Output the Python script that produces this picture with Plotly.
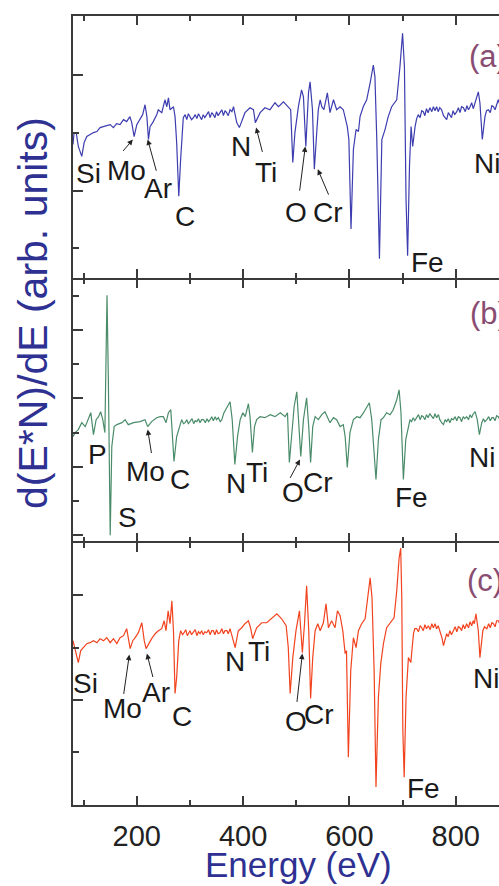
import plotly.graph_objects as go

# ---------------- data (energy in eV, signal in arb. units) ----------------
energy_a = [80, 82, 86, 90, 96.5, 101, 106, 112, 118.5, 125, 131, 137, 143.5, 150, 156, 162, 168.5, 175, 181, 187,
            190.5, 195, 200, 206, 211, 215.5, 219, 222, 225, 231, 237.5, 240.5, 247, 253, 256.5, 259.5, 262.5, 269,
            272, 275, 279, 282.5,
            287.5, 291, 294, 297, 300, 303, 306.5, 310, 313, 316, 319, 322, 325, 328, 331.5, 335, 338, 341, 344,
            347, 350, 353, 356.5, 360, 363, 366, 369, 372, 375.5, 379, 382,
            385, 388, 393, 397.5, 403.5, 413, 419.5, 423, 432, 441, 450.5, 460, 466.5, 476, 485, 489.5, 493.5,
            497.5, 504, 510, 513.5, 518, 523, 526, 530.5, 534, 538.5, 541.5, 545, 548, 552, 558.5, 563.5, 570, 576,
            582.5, 588.5, 596, 599, 603, 607.5, 612.5, 617, 620, 626, 632.5, 639, 645, 648, 651.5, 656.5, 661, 667,
            673, 679.5, 689, 695, 700, 703.5, 706.5, 709.5, 713, 716, 719,
            723.5, 726.5, 729.5, 733, 736, 739, 742, 745, 748, 751.5, 755, 758, 761, 764, 767, 770, 773.5, 777, 780,
            783, 786, 789, 792, 795, 798, 802, 805, 808, 811, 814.5, 818, 821, 824, 827, 830, 833, 836.5, 839,
            842.5, 845.5, 850,
            855, 858, 861.5, 865, 868, 871, 874, 877, 880, 883, 885]
signal_a = [-12, 0, 0, -14, -24, -10, -4, -2, 0, 1, 5, 6, 7, 8, 5, 9, 8, 13, 11, 16,
            10, -4, 8, 13, 18, 28, 16, -7, 6, 11, 18, 23, 20, 33, 26, 35, 23, 26,
            16, -10, -64, -27,
            15, 18, 13, 19, 16, 13, 15, 18, 14, 19, 16, 13, 18, 15, 18, 21, 15, 20, 18,
            15, 21, 17, 20, 23, 17, 22, 20, 17, 23, 21, 26,
            18, 10, 5, 11, 20, 25, 23, 10, 20, 25, 23, 30, 26, 31, 26, 23, -30,
            0, 26, 43, 36, -14, 40, 51, 23, -37, 0, 23, 33, 26, 23, 40, 20, 33, 23,
            26, 23, 6, -7, -97, -17, 3, 1, 16, 26, 33, 50, 68, 56, -7, -127, -7, 3,
            16, 26, 33, 66, 100, 66, -67, -124, -34, 6, -14,
            6, 14, 18, 15, 22, 21, 17, 24, 20, 25, 21, 26, 22, 26, 21, 25, 23, 17, 15,
            13, 20, 18, 15, 22, 18, 21, 25, 20, 26, 25, 21, 27, 23, 26, 30, 24, 31, 35,
            41, 30, -7,
            16, 22, 23, 20, 27, 26, 23, 29, 33, 28, 32]

energy_b = [80, 84, 90, 96.5, 103, 109, 113.5, 118.5, 123.5, 128, 132, 136, 140, 141.5, 144, 146.5, 150, 153, 157.5,
            162.5, 172, 178, 184, 194, 206, 215.5, 220.5, 228, 237.5, 244, 250, 255, 259.5, 264, 267, 270, 275,
            280,
            284.5, 288, 291, 294, 297, 300, 304, 307, 310, 313, 316, 319, 322, 325.5, 329, 332, 335, 338, 341, 344,
            347.5, 350, 353.5, 357, 360,
            364, 369.5, 375.5, 379.5, 384.5, 389.5,
            394.5, 399.5, 404, 410, 413, 417.5, 421.5, 425.5, 432, 441, 451, 460, 470, 479, 483.5, 487, 491.5,
            496, 501, 505, 508.5, 513.5, 519.5, 523.5, 527, 531, 535.5, 541.5, 548, 554, 558.5, 563.5, 570, 576,
            582.5, 588.5, 592, 596, 601, 607.5, 614, 620, 626.5, 632.5, 637.5, 642, 646.5, 650, 654.5, 659.5, 664,
            670, 676.5, 682.5, 689, 693.5, 697, 701.5, 706,
            711, 714, 717, 720, 723, 726.5, 730, 733, 736, 739, 742, 745, 748, 751, 755, 758, 761, 764, 767.5, 770,
            773.5, 777, 780, 783, 786, 789, 792, 795.5, 799, 802, 805, 808, 811, 814, 817, 820.5, 824, 827, 830,
            832, 836.5,
            840.5, 844.5, 849, 852, 855, 858.5, 862, 865, 868, 871, 874, 877, 880, 883, 885]
signal_b = [-4, 0, 3, 10, 6, 13, 20, -2, 13, 16, 21, 13, 0, 53, 138, 53, -103, -14, 6,
            8, 10, 13, 8, 10, 11, 13, 6, 11, 15, 16, 16, 10, 20, 23, 0, -29, -4,
            6,
            13, 9, 10, 13, 9, 11, 14, 9, 12, 11, 14, 10, 13, 13, 10, 14, 11, 13, 16, 12,
            16, 13, 15, 11, 13,
            20, 26, 31, 13, -32, -4,
            13, 20, 16, 29, 16, -20, 6, 13, 16, 15, 18, 16, 20, 16, 20, -30, 2,
            26, 41, 8, -24, 13, 35, 6, -30, 6, 16, 13, 18, 21, 16, 10, 15, 13,
            6, 8, -4, -35, 0, 13, 16, 15, 20, 25, 30, 13, -20, -47, -7, 13, 15,
            20, 18, 23, 33, 43, 20, -47, -7,
            6, 13, 11, 15, 12, 15, 18, 13, 17, 16, 13, 18, 15, 19, 16, 14, 19, 15, 18, 13,
            10, 8, 13, 11, 14, 10, 14, 13, 16, 12, 16, 15, 11, 16, 14, 16, 13, 18, 15,
            18, 21,
            13, -2, 10, 14, 11, 13, 16, 12, 15, 15, 12, 17, 16, 13, 16]

energy_c = [80, 82, 86, 90, 94.5, 99.5, 106, 112, 118.5, 125, 131, 137.5, 143.5, 150, 156, 162.5, 168.5, 175, 181,
            187.5, 192.5, 197, 203, 209.5, 214, 217.5, 222, 228, 234.5, 240.5, 247, 251.5, 255, 259, 262.5, 266,
            269, 272, 275, 279,
            282.5, 286, 289, 292, 295, 297, 300, 303, 306.5, 310, 313, 316, 319, 322, 325, 328, 331.5, 335, 338,
            341, 344, 347, 350, 353, 356.5, 360, 363, 366, 369.5, 372, 375.5,
            380.5, 385, 391,
            397.5, 403.5, 410, 414, 418, 425.5, 435, 444.5, 454, 463.5, 472.5, 481, 485, 488.5, 493.5, 499.5,
            506, 509, 511.5, 515.5, 519.5, 523.5, 527, 531, 535.5, 540.5, 545, 551, 556, 560.5, 566.5, 573,
            577.5, 582.5, 587.5, 592, 594.5, 598, 602.5, 607.5, 612.5, 617, 623, 629.5, 634, 639, 642.5, 646.5,
            650, 654.5, 659, 664, 670, 676.5, 684, 689, 693.5, 696.5, 698.5, 700.5, 703, 706.5, 711, 715.5,
            720.5, 723, 726.5, 730, 733, 736, 739, 742, 745, 748.5, 752, 755, 758, 761, 764, 767, 770.5, 774, 777,
            780, 783, 786, 789, 792, 795.5, 799, 802, 805, 808, 811, 814, 817, 820.5, 824, 827, 830, 833, 835, 838,
            842.5, 845.5, 851, 854, 858.5, 862, 865, 868, 871, 874, 877, 880, 883, 885]
signal_c = [7, 2, -6, -15, -3, 0, 4, 5, 7, 5, 9, 7, 10, 5, 9, 4, 10, 12, 19,
            -1, 7, 10, 15, 25, 7, -1, 4, 9, 14, 17, 19, 27, 17, 37, 24, 47,
            17, -46, -30, 7,
            17, 13, 15, 18, 12, 14, 17, 13, 15, 18, 12, 16, 14, 17, 13, 16, 15, 18, 13,
            17, 17, 13, 18, 14, 15, 19, 14, 17, 17, 14, 19,
            10, 0, 17,
            20, 24, 27, 20, 9, 20, 25, 25, 30, 34, 29, 22, 0, -46, -10, 17,
            37, 17, -5, 24, 62, 17, -51, -10, 17, 24, 17, 25, 44, 20, 27, 20,
            37, 32, 17, -6, -3, -110, -23, 10, 0, 17, 24, 29, 47, 70, 50, -23,
            -140, -50, -16, 4, 20, 25, 30, 57, 90, 100, 50, -83, -130, -50, -10, -15,
            14, 19, 19, 16, 22, 20, 17, 23, 19, 22, 18, 24, 20, 24, 19, 22, 17, 10, 2,
            8, 14, 11, 17, 13, 17, 21, 16, 21, 20, 17, 23, 19, 24, 20, 26, 22, 27, 24, 34,
            17, -10, 17, 21, 19, 24, 20, 25, 24, 21, 27, 27, 24, 28]

x_tick_vals = [200, 400, 600, 800]
x_tick_text = ["200", "400", "600", "800"]

# element labels: (text, energy, signal)
labels_a = [("Si", 110, -41), ("Mo", 181, -38), ("Ar", 239, -56), ("C", 291, -84), ("N", 396, -14),
            ("Ti", 443, -40), ("O", 499, -80), ("Cr", 560, -80), ("Fe", 747, -131), ("Ni", 859, -31)]
labels_b = [("P", 126, -22), ("S", 182, -85), ("Mo", 217, -39), ("C", 281, -47), ("N", 386, -51),
            ("Ti", 427, -40), ("O", 493, -60), ("Cr", 540, -50), ("Fe", 716, -65), ("Ni", 850, -25)]
labels_c = [("Si", 103, -36), ("Mo", 173, -61), ("Ar", 236, -45), ("C", 285, -69), ("N", 385, -14),
            ("Ti", 430, -4), ("O", 499, -74), ("Cr", 542, -67), ("Fe", 739, -141), ("Ni", 857, -31)]
# arrows: (tail_E, tail_v, head_E, head_v)
arrows_a = [(172, -20, 192.5, -7), (237.5, -40, 220.5, -7), (437, -21, 424.5, 5),
            (506, -60, 517, -14), (562, -64, 540.5, -37)]
arrows_b = [(228, -22, 220.5, 3), (487, -47, 507, -27)]
arrows_c = [(175, -48, 186, -7), (231, -31, 219, -6), (501, -56, 511.5, -6)]

FONT = "Liberation Sans, Arial, Helvetica, sans-serif"
AX = "#3a3a3a"
TITLE_BLUE = "#2e3192"
PANEL_COL = "#8a4d72"
LW = 1.6

fig = go.Figure()
fig.add_trace(go.Scatter(x=energy_a, y=signal_a, mode="lines", line=dict(color="#3d3db0", width=1.2),
                         xaxis="x", yaxis="y", showlegend=False))
fig.add_trace(go.Scatter(x=energy_b, y=signal_b, mode="lines", line=dict(color="#4a8c69", width=1.2),
                         xaxis="x2", yaxis="y2", showlegend=False))
fig.add_trace(go.Scatter(x=energy_c, y=signal_c, mode="lines", line=dict(color="#f2431f", width=1.2),
                         xaxis="x3", yaxis="y3", showlegend=False))

xcommon = dict(range=[80, 881.4], showline=True, linecolor=AX, linewidth=LW, mirror="ticks",
               ticks="inside", ticklen=9, tickwidth=LW, tickcolor=AX, tickvals=x_tick_vals,
               ticktext=x_tick_text, showgrid=False, zeroline=False,
               minor=dict(tickvals=[100, 300, 500, 700], ticklen=5, tickwidth=LW, tickcolor=AX, ticks="inside"),
               tickfont=dict(family=FONT, size=29, color="#222222"))

PLOT_H = 789.0
g = LW / PLOT_H
p = (1 - 2 * g) / 3
fig.update_layout(
    width=499, height=886,
    margin=dict(l=73, r=0, t=16, b=81),
    paper_bgcolor="white", plot_bgcolor="white",
    xaxis=dict(xcommon, anchor="y", showticklabels=False),
    xaxis2=dict(xcommon, anchor="y2", matches="x", showticklabels=False),
    xaxis3=dict(xcommon, anchor="y3", matches="x", showticklabels=True, ticklabelstandoff=4),
)

ycommon = dict(showline=True, linecolor=AX, linewidth=LW, ticks="inside", tickwidth=LW, tickcolor=AX,
               showticklabels=False, showgrid=False, zeroline=False, ticklen=10)
fig.update_layout(
    yaxis=dict(ycommon, domain=[2 * p + 2 * g, 1], range=[-146.3, 117.3], anchor="x",
               tickvals=[-58.5, 58], minor=dict(tickvals=[-116.5, 0], ticklen=6, tickwidth=LW,
                                                 tickcolor=AX, ticks="inside")),
    yaxis2=dict(ycommon, domain=[p + g, 2 * p + g], range=[-109.3, 153.7], anchor="x2",
                tickvals=[-102.9, -34.3, 34.3, 102.9],
                minor=dict(tickvals=[-68.6, 0, 68.6, 137.2], ticklen=6, tickwidth=LW,
                           tickcolor=AX, ticks="inside")),
    yaxis3=dict(ycommon, domain=[0, p], range=[-158, 105], anchor="x3",
                tickvals=[-52.5, 52.5],
                minor=dict(tickvals=[-105, 0], ticklen=6, tickwidth=LW, tickcolor=AX, ticks="inside")),
)

ann = []
for labs, xr, yr in [(labels_a, "x", "y"), (labels_b, "x2", "y2"), (labels_c, "x3", "y3")]:
    for t, e, v in labs:
        ann.append(dict(text=t, x=e, y=v, xref=xr, yref=yr, showarrow=False, xanchor="center",
                        yanchor="middle", font=dict(family=FONT, size=28, color="#1a1a1a")))
for arrs, xr, yr in [(arrows_a, "x", "y"), (arrows_b, "x2", "y2"), (arrows_c, "x3", "y3")]:
    for te, tv, he, hv in arrs:
        ann.append(dict(text="", x=he, y=hv, ax=te, ay=tv, xref=xr, yref=yr, axref=xr, ayref=yr,
                        showarrow=True, arrowhead=2, arrowsize=1.1, arrowwidth=1, arrowcolor="#222222"))
for t, e, yp in [("(a)", 820.6, 56), ("(b)", 823.7, 313), ("(c)", 817.4, 580)]:
    ann.append(dict(text=t, x=(e - 80) / (881.4 - 80), y=(805 - yp) / PLOT_H, xref="paper", yref="paper",
                    showarrow=False, xanchor="left", yanchor="middle",
                    font=dict(family=FONT, size=31, color=PANEL_COL)))
ann.append(dict(text="Energy (eV)", x=(298.4 - 73) / 426, y=(805 - 864) / PLOT_H, xref="paper", yref="paper",
                showarrow=False, xanchor="center", yanchor="middle",
                font=dict(family=FONT, size=35, color=TITLE_BLUE)))
ann.append(dict(text="d(E*N)/dE (arb. units)", x=(33 - 73) / 426, y=(805 - 313) / PLOT_H, xref="paper",
                yref="paper", showarrow=False, xanchor="center", yanchor="middle", textangle=-90,
                font=dict(family=FONT, size=41, color=TITLE_BLUE)))
fig.update_layout(annotations=ann)

fig.write_html("out.html")
